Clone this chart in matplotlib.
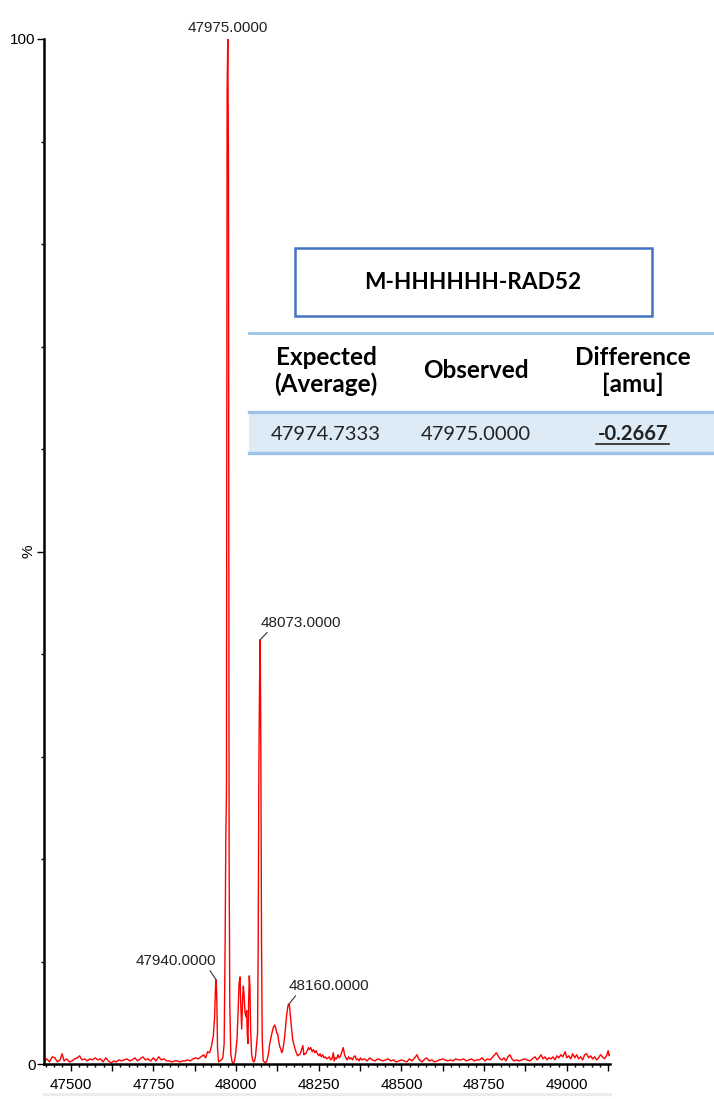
import matplotlib
matplotlib.use("Agg")
import matplotlib.pyplot as plt
from matplotlib.ticker import MultipleLocator, FuncFormatter
from matplotlib.lines import Line2D
from matplotlib.patches import Rectangle

# deconvoluted spectrum, mass (Da) vs relative intensity (%)
mass = [
    47420, 47428, 47436, 47444, 47452, 47460, 47468, 47474, 47480, 47488,
    47496, 47504, 47512, 47520, 47527, 47534, 47542, 47550, 47558, 47566,
    47574, 47582, 47590, 47598, 47606, 47614, 47622, 47630, 47638, 47646,
    47654, 47662, 47670, 47678, 47686, 47694, 47702, 47710, 47718, 47726,
    47734, 47742, 47750, 47758, 47766, 47774, 47782, 47790, 47798, 47806,
    47814, 47822, 47830, 47838, 47846, 47854, 47862, 47870, 47878, 47886,
    47894, 47902, 47908, 47914, 47920, 47926, 47931, 47935, 47938, 47940,
    47942, 47944, 47947, 47951, 47956, 47960, 47964, 47967, 47969, 47971,
    47973, 47975, 47977, 47979, 47981, 47984, 47988, 47992, 47996, 47999,
    48003, 48006, 48009, 48012, 48014, 48017, 48020, 48022, 48024, 48027,
    48030, 48032, 48034, 48036, 48038, 48040, 48042, 48044, 48047, 48050,
    48053, 48056, 48059, 48062, 48065, 48067, 48069, 48071, 48073, 48075,
    48077, 48079, 48082, 48086, 48090, 48094, 48098, 48101, 48105, 48109,
    48113, 48117, 48120, 48123, 48126, 48129, 48132, 48135, 48138, 48141,
    48144, 48147, 48150, 48153, 48156, 48158, 48160, 48162, 48165, 48168,
    48171, 48174, 48178, 48182, 48186, 48190, 48194, 48198, 48202, 48205,
    48208, 48211, 48215, 48219, 48222, 48226, 48230, 48234, 48238, 48242,
    48246, 48250, 48254, 48258, 48262, 48266, 48270, 48274, 48278, 48282,
    48286, 48290, 48294, 48297, 48300, 48304, 48308, 48312, 48316, 48320,
    48324, 48328, 48332, 48336, 48340, 48344, 48348, 48352, 48356, 48360,
    48364, 48368, 48372, 48376, 48380, 48388, 48396, 48404, 48412, 48420,
    48428, 48436, 48444, 48452, 48460, 48468, 48476, 48484, 48492, 48500,
    48508, 48516, 48524, 48532, 48540, 48547, 48552, 48558, 48562, 48568,
    48576, 48584, 48592, 48600, 48608, 48616, 48624, 48632, 48640, 48648,
    48656, 48664, 48672, 48680, 48688, 48696, 48704, 48712, 48720, 48728,
    48736, 48744, 48752, 48760, 48768, 48776, 48782, 48787, 48792, 48798,
    48804, 48810, 48816, 48822, 48828, 48834, 48840, 48848, 48856, 48864,
    48872, 48880, 48888, 48896, 48904, 48910, 48916, 48922, 48928, 48934,
    48940, 48946, 48952, 48958, 48964, 48970, 48976, 48982, 48988, 48995,
    49000, 49006, 49012, 49018, 49024, 49030, 49036, 49042, 49048, 49054,
    49060, 49066, 49072, 49078, 49084, 49090, 49096, 49102, 49108, 49114,
    49120, 49125, 49128, 49132,
]
intensity = [
    0.3, 0.5, 0.2, 0.7, 0.6, 0.2, 0.4, 1.0, 0.3, 0.5,
    0.2, 0.3, 0.5, 0.6, 0.8, 0.4, 0.5, 0.3, 0.5, 0.4,
    0.6, 0.4, 0.5, 0.2, 0.6, 0.3, 0.1, 0.3, 0.2, 0.4,
    0.3, 0.4, 0.5, 0.3, 0.4, 0.6, 0.3, 0.5, 0.7, 0.4,
    0.5, 0.3, 0.6, 0.3, 0.7, 0.4, 0.5, 0.3, 0.3, 0.2,
    0.3, 0.3, 0.2, 0.3, 0.3, 0.4, 0.3, 0.5, 0.6, 0.5,
    0.7, 0.9, 0.6, 1.2, 1.1, 1.8, 2.7, 4.5, 7.6, 8.2,
    6.0, 1.5, 0.2, 0.3, 0.4, 0.6, 2.0, 12.0, 22.0, 26.5,
    95.0, 100.0, 88.0, 20.0, 6.0, 1.0, 0.2, 0.0, 0.4, 1.1,
    2.5, 5.0, 7.8, 8.5, 6.0, 3.4, 6.5, 7.6, 6.8, 5.0,
    4.6, 5.2, 2.8, 2.0, 6.0, 8.6, 7.5, 3.4, 1.0, 0.4,
    0.2, 0.3, 0.8, 1.9, 3.0, 12.0, 29.0, 37.0, 41.4, 30.0,
    12.0, 2.5, 0.3, 0.2, 0.1, 0.4, 1.0, 1.8, 2.5, 3.1,
    3.6, 3.8, 3.5, 3.0, 2.9, 2.2, 1.7, 1.5, 1.1, 1.3,
    1.9, 2.7, 3.8, 4.8, 5.5, 5.8, 5.85, 5.5, 4.4, 3.4,
    2.4, 2.0, 1.5, 1.1, 0.8, 0.9, 1.0, 1.4, 1.8, 0.9,
    1.0, 1.0, 1.3, 1.6, 1.4, 1.6, 1.2, 1.4, 1.1, 1.3,
    1.0, 0.8, 1.0, 0.7, 0.9, 0.6, 0.7, 0.5, 0.6, 0.7,
    0.4, 0.5, 1.1, 0.3, 0.6, 0.5, 0.9, 0.6, 0.8, 1.2,
    1.6, 0.9, 0.6, 0.4, 0.7, 0.5, 0.6, 0.4, 0.7, 0.8,
    0.4, 0.5, 0.3, 0.6, 0.4, 0.5, 0.3, 0.6, 0.4, 0.3,
    0.5, 0.4, 0.3, 0.4, 0.5, 0.3, 0.4, 0.2, 0.3, 0.4,
    0.3, 0.2, 0.5, 0.3, 0.6, 0.9, 0.5, 0.3, 0.2, 0.4,
    0.6, 0.3, 0.4, 0.2, 0.3, 0.4, 0.5, 0.4, 0.3, 0.4,
    0.3, 0.5, 0.4, 0.4, 0.5, 0.3, 0.4, 0.5, 0.3, 0.4,
    0.4, 0.6, 0.3, 0.5, 0.4, 0.7, 0.9, 1.1, 0.8, 0.5,
    0.4, 0.6, 0.3, 0.7, 0.9, 0.5, 0.3, 0.4, 0.3, 0.4,
    0.5, 0.4, 0.3, 0.5, 0.7, 0.4, 0.6, 0.9, 0.5, 0.7,
    0.4, 0.6, 0.5, 0.7, 0.4, 0.8, 0.6, 0.9, 0.7, 1.2,
    0.6, 0.8, 0.5, 1.0, 0.6, 0.9, 0.5, 0.7, 0.4, 0.9,
    1.0, 0.6, 0.8, 0.5, 0.7, 0.4, 0.6, 0.9, 0.7, 0.5,
    0.8, 1.3, 0.8, 1.0,
]

# labelled peaks
peak_mass = [47975, 48073, 47940, 48160]
peak_label = ["47975.0000", "48073.0000", "47940.0000", "48160.0000"]

construct = "M-HHHHHH-RAD52"
table_header = ["Expected\n(Average)", "Observed", "Difference\n[amu]"]
table_row = ["47974.7333", "47975.0000", "-0.2667"]

W, H = 714, 1099
fig = plt.figure(figsize=(W / 100, H / 100), dpi=100)
plt.rcParams["font.family"] = ["Liberation Sans", "DejaVu Sans"]


def fx(px):
    return px / W


def fy(py):
    return 1 - py / H


ax = fig.add_axes([fx(44), fy(1064), fx(610) - fx(44), fy(39) - fy(1064)])
ax.plot(mass, intensity, color="#ff0000", lw=1.0)
ax.set_xlim(47419.3, 49130.6)
ax.set_ylim(0, 100)

for s in ["top", "right"]:
    ax.spines[s].set_visible(False)
for s in ["left", "bottom"]:
    ax.spines[s].set_linewidth(1.8)
    ax.spines[s].set_color("black")

ax.xaxis.set_major_locator(MultipleLocator(125))
ax.xaxis.set_minor_locator(MultipleLocator(25))
ax.xaxis.set_major_formatter(FuncFormatter(lambda v, p: "%d" % v if round(v) % 250 == 0 else ""))
ax.tick_params(axis="x", which="major", length=5, width=1, pad=5, labelsize=11)
ax.tick_params(axis="x", which="minor", length=2.5, width=1)

ax.set_yticks([0, 50, 100])
ax.set_yticklabels(["0", "%", "100"])
ax.yaxis.set_minor_locator(MultipleLocator(10))
ax.tick_params(axis="y", which="major", length=5, width=1, pad=1, labelsize=11)
ax.tick_params(axis="y", which="minor", length=2.5, width=1)
ax.get_yticklabels()[1].set_rotation(90)
ax.get_yticklabels()[1].set_va("center")

# peak annotations
lbl = dict(fontsize=11, color="#222222")
lead = dict(arrowstyle="-", color="#333333", lw=0.8, shrinkA=0, shrinkB=0)
pk = dict(zip(mass, intensity))
ax.annotate(peak_label[0], (peak_mass[0], pk[peak_mass[0]]), xytext=(0, 4),
            textcoords="offset pixels", ha="center", va="bottom", **lbl)
ax.annotate(peak_label[1], (peak_mass[1], pk[peak_mass[1]]), xytext=(0, 10),
            textcoords="offset pixels", ha="left", va="bottom",
            arrowprops=dict(relpos=(0.12, 0), **lead), **lbl)
ax.annotate(peak_label[2], (peak_mass[2], pk[peak_mass[2]]), xytext=(0, 12),
            textcoords="offset pixels", ha="right", va="bottom",
            arrowprops=dict(relpos=(0.9, 0), **lead), **lbl)
ax.annotate(peak_label[3], (peak_mass[3], pk[peak_mass[3]]), xytext=(0, 11),
            textcoords="offset pixels", ha="left", va="bottom",
            arrowprops=dict(relpos=(0.11, 0), **lead), **lbl)

# faint rule under the mass axis
fig.add_artist(Line2D([fx(44), fx(610)], [fy(1094), fy(1094)], color="#ececec", lw=2.2))

# construct box and mass table
tfont = ["Lato", "DejaVu Sans"]
fig.add_artist(Rectangle((fx(295), fy(316)), fx(652) - fx(295), fy(248) - fy(316),
                         fill=False, edgecolor="#4472c4", lw=1.8))
fig.text(fx(473), fy(282), construct, ha="center", va="center", fontsize=16.3,
         fontweight="bold", family=tfont)

fig.add_artist(Rectangle((fx(249), fy(453)), 1 - fx(249), fy(412) - fy(453),
                         facecolor="#ddebf7", edgecolor="none"))
for y, c, w in [(333, "#9dc3e6", 2.0), (412, "#9dc3e6", 2.4), (453, "#9dc3e6", 2.4)]:
    fig.add_artist(Line2D([fx(249), 1], [fy(y), fy(y)], color=c, lw=w))

col_x = [326, 476, 633]
for x, t in zip(col_x, table_header):
    fig.text(fx(x), fy(371), t, ha="center", va="center", fontsize=17.5,
             fontweight="bold", family=tfont, linespacing=1.15)
for i, (x, t) in enumerate(zip(col_x, table_row)):
    fig.text(fx(x), fy(434), t, ha="center", va="center", fontsize=14.5,
             fontweight="bold" if i == 2 else "normal", family=tfont, color="#222222")
fig.add_artist(Line2D([fx(596), fx(669)], [fy(444), fy(444)], color="#222222", lw=1.2))

fig.savefig("out.png", dpi=100)
